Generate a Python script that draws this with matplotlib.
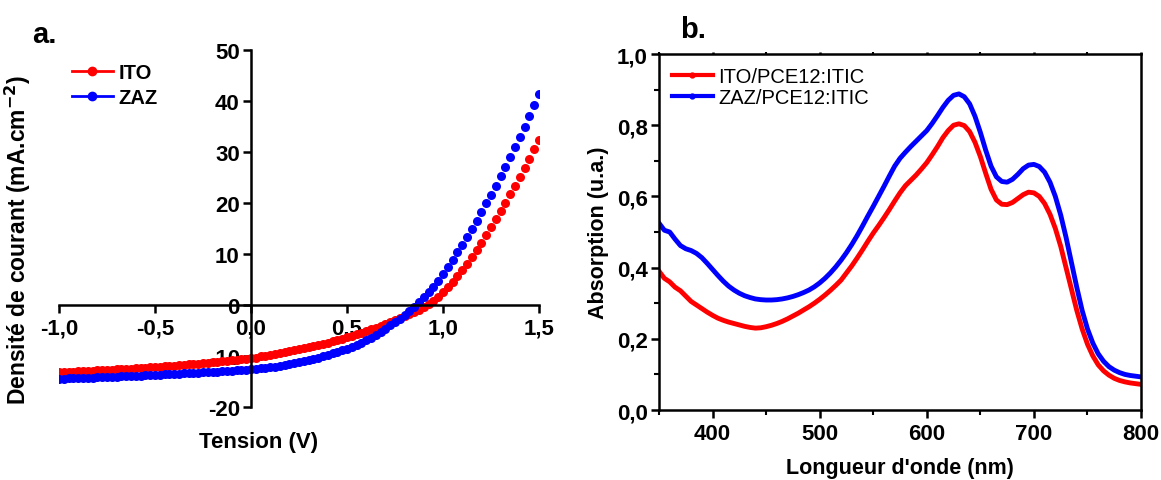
import matplotlib.pyplot as plt
import numpy as np
from matplotlib.lines import Line2D
from matplotlib.ticker import FuncFormatter, MultipleLocator

plt.rcParams['font.family'] = ['Liberation Sans', 'DejaVu Sans']
plt.rcParams['axes.unicode_minus'] = False

# J-V curves (V step 0.025 V)
tension = np.round(np.arange(-1.0, 1.5001, 0.025), 3)
j_ito = [-13.2, -13.2, -13.1, -13.1, -13.0, -13.0, -12.9, -12.9, -12.8, -12.8,
         -12.7, -12.7, -12.6, -12.6, -12.5, -12.5, -12.4, -12.3, -12.3, -12.2,
         -12.1, -12.1, -12.0, -11.9, -11.9, -11.8, -11.7, -11.6, -11.6, -11.5,
         -11.4, -11.3, -11.2, -11.1, -11.0, -10.9, -10.8, -10.7, -10.6, -10.5,
         -10.4, -10.3, -10.1, -10.0, -9.8, -9.7, -9.5, -9.3, -9.1, -8.9,
         -8.7, -8.5, -8.3, -8.1, -7.9, -7.6, -7.4, -7.1, -6.9, -6.6,
         -6.3, -6.0, -5.7, -5.4, -5.1, -4.8, -4.5, -4.1, -3.8, -3.4,
         -3.0, -2.6, -2.2, -1.8, -1.4, -0.9, -0.4, 0.1, 0.8, 1.6,
         2.5, 3.5, 4.6, 5.7, 6.9, 8.1, 9.4, 10.8, 12.2, 13.7,
         15.2, 16.8, 18.4, 20.0, 21.7, 23.4, 25.1, 26.9, 28.7, 30.5,
         32.4]
j_zaz = [-14.5, -14.5, -14.4, -14.4, -14.4, -14.3, -14.3, -14.3, -14.2, -14.2,
         -14.2, -14.1, -14.1, -14.0, -14.0, -14.0, -13.9, -13.9, -13.8, -13.8,
         -13.7, -13.7, -13.6, -13.6, -13.5, -13.5, -13.4, -13.4, -13.3, -13.3,
         -13.2, -13.2, -13.1, -13.1, -13.0, -12.9, -12.9, -12.8, -12.7, -12.7,
         -12.6, -12.5, -12.4, -12.3, -12.2, -12.1, -11.9, -11.8, -11.6, -11.4,
         -11.2, -11.0, -10.8, -10.6, -10.3, -10.1, -9.8, -9.5, -9.2, -8.9,
         -8.6, -8.2, -7.8, -7.4, -6.9, -6.4, -5.9, -5.3, -4.7, -4.0,
         -3.4, -2.7, -2.0, -1.2, -0.4, 0.5, 1.5, 2.5, 3.5, 4.8,
         6.1, 7.5, 8.9, 10.3, 11.8, 13.3, 14.9, 16.5, 18.2, 19.9,
         21.6, 23.4, 25.2, 27.1, 29.0, 30.9, 32.9, 34.9, 37.0, 39.2,
         41.4]

# absorption spectra (5 nm step)
longueur = np.arange(350, 801, 5)
abs_ito = [0.39, 0.37, 0.36, 0.345, 0.335, 0.32, 0.305, 0.295, 0.285, 0.275,
           0.266, 0.258, 0.252, 0.247, 0.243, 0.239, 0.235, 0.232, 0.230, 0.231,
           0.234, 0.238, 0.243, 0.249, 0.256, 0.264, 0.272, 0.281, 0.290, 0.300,
           0.311, 0.323, 0.336, 0.350, 0.365, 0.385, 0.405, 0.427, 0.450, 0.474,
           0.497, 0.518, 0.540, 0.563, 0.587, 0.610, 0.630, 0.645, 0.660, 0.677,
           0.695, 0.717, 0.740, 0.765, 0.785, 0.800, 0.804, 0.799, 0.782, 0.752,
           0.712, 0.665, 0.620, 0.590, 0.578, 0.577, 0.583, 0.594, 0.605, 0.612,
           0.610, 0.600, 0.580, 0.550, 0.510, 0.460, 0.400, 0.340, 0.280, 0.228,
           0.185, 0.152, 0.127, 0.110, 0.098, 0.089, 0.083, 0.079, 0.076, 0.074,
           0.072]
abs_zaz = [0.525, 0.505, 0.50, 0.48, 0.462, 0.453, 0.448, 0.440, 0.428, 0.412,
           0.395, 0.378, 0.362, 0.348, 0.337, 0.328, 0.321, 0.316, 0.312, 0.310,
           0.309, 0.309, 0.310, 0.312, 0.315, 0.319, 0.324, 0.330, 0.337, 0.346,
           0.357, 0.370, 0.385, 0.402, 0.421, 0.442, 0.465, 0.490, 0.517, 0.545,
           0.572, 0.600, 0.628, 0.657, 0.685, 0.707, 0.724, 0.740, 0.755, 0.770,
           0.785, 0.805, 0.827, 0.850, 0.870, 0.884, 0.888, 0.880, 0.860, 0.825,
           0.780, 0.730, 0.685, 0.655, 0.642, 0.640, 0.648, 0.662, 0.678, 0.688,
           0.690, 0.684, 0.668, 0.640, 0.600, 0.548, 0.485, 0.415, 0.345, 0.280,
           0.228, 0.188, 0.158, 0.137, 0.122, 0.112, 0.105, 0.100, 0.097, 0.095,
           0.093]

red = '#ff0000'
blue = '#0000ff'
virgule = lambda fmt: FuncFormatter(lambda v, p: (fmt % v).replace('.', ','))

fig = plt.figure(figsize=(11.61, 4.81), dpi=100)

# ---- a. J-V ----
ax1 = fig.add_axes([0.0508, 0.1518, 0.4134, 0.7422])
ax1.plot(tension, j_ito, 'o', color=red, ms=6.5, mec='none')
ax1.plot(tension, j_zaz, 'o', color=blue, ms=6.5, mec='none')
ax1.set_xlim(-1.0, 1.5)
ax1.set_ylim(-20, 50)
ax1.spines['left'].set_position(('data', 0))
ax1.spines['bottom'].set_position(('data', 0))
ax1.spines['right'].set_visible(False)
ax1.spines['top'].set_visible(False)
for s in ['left', 'bottom']:
    ax1.spines[s].set_linewidth(1.8)
ax1.set_axisbelow(True)
ax1.set_xticks([-1.0, -0.5, 0.0, 0.5, 1.0, 1.5])
ax1.set_yticks(range(-20, 51, 10))
ax1.xaxis.set_major_formatter(virgule('%.1f'))
ax1.tick_params(width=1.8, length=6, labelsize=16, direction='out')
ax1.tick_params(axis='x', pad=3)
ax1.tick_params(axis='y', pad=2)
for lab in ax1.get_xticklabels() + ax1.get_yticklabels():
    lab.set_fontweight('bold')
ax1.set_xlabel('Tension (V)', fontsize=16, fontweight='bold')
ax1.xaxis.set_label_coords(0.415, -0.068)
ax1.set_ylabel('Densité de courant (mA.cm$^{\\mathbf{-2}}$)', fontsize=16.5, fontweight='bold')
ax1.yaxis.set_label_coords(-0.055, 0.47)
h1 = [Line2D([], [], color=red, lw=2, marker='o', ms=6),
      Line2D([], [], color=blue, lw=2, marker='o', ms=6)]
ax1.legend(h1, ['ITO', 'ZAZ'], loc='upper left', bbox_to_anchor=(-0.01, 1.015),
           frameon=False, handlelength=2.0, handletextpad=0.3, labelspacing=0.3,
           prop={'weight': 'bold', 'size': 14.5})
fig.text(0.028, 0.91, 'a.', fontsize=21, fontweight='bold')

# ---- b. absorption ----
ax2 = fig.add_axes([0.5676, 0.1455, 0.4152, 0.7401])
ax2.plot(longueur, abs_ito, '-', color=red, lw=3.5)
ax2.plot(longueur, abs_zaz, '-', color=blue, lw=3.5)
ax2.set_xlim(350, 800)
ax2.set_ylim(0, 1.0)
for s in ax2.spines.values():
    s.set_linewidth(1.8)
ax2.xaxis.set_major_locator(MultipleLocator(100))
ax2.xaxis.set_minor_locator(MultipleLocator(50))
ax2.yaxis.set_major_locator(MultipleLocator(0.2))
ax2.yaxis.set_minor_locator(MultipleLocator(0.1))
ax2.yaxis.set_major_formatter(virgule('%.1f'))
ax2.tick_params(which='major', width=1.8, length=6, labelsize=16, direction='out')
ax2.tick_params(which='minor', width=1.5, length=3.5, direction='out')
ax2.tick_params(axis='x', which='both', top=True, labeltop=False)
ax2.tick_params(axis='y', pad=2)
for t in ax2.xaxis.get_ticklines(minor=False)[1::2] + ax2.xaxis.get_ticklines(minor=True)[1::2]:
    t.set_markersize(1.5)
for lab in ax2.get_xticklabels() + ax2.get_yticklabels():
    lab.set_fontweight('bold')
ax2.set_xlabel("Longueur d'onde (nm)", fontsize=15.5, fontweight='bold', labelpad=9)
ax2.set_ylabel('Absorption (u.a.)', fontsize=15.5, fontweight='bold', labelpad=6)
h2 = [Line2D([], [], color=red, lw=3, marker='o', ms=3.5),
      Line2D([], [], color=blue, lw=3, marker='o', ms=3.5)]
ax2.legend(h2, ['ITO/PCE12:ITIC', 'ZAZ/PCE12:ITIC'], loc='upper left',
           bbox_to_anchor=(-0.01, 1.015), frameon=False, handlelength=2.0,
           handletextpad=0.3, labelspacing=0.1, fontsize=14.5)
fig.text(0.586, 0.922, 'b.', fontsize=21, fontweight='bold')

fig.savefig('out.png', dpi=100)
